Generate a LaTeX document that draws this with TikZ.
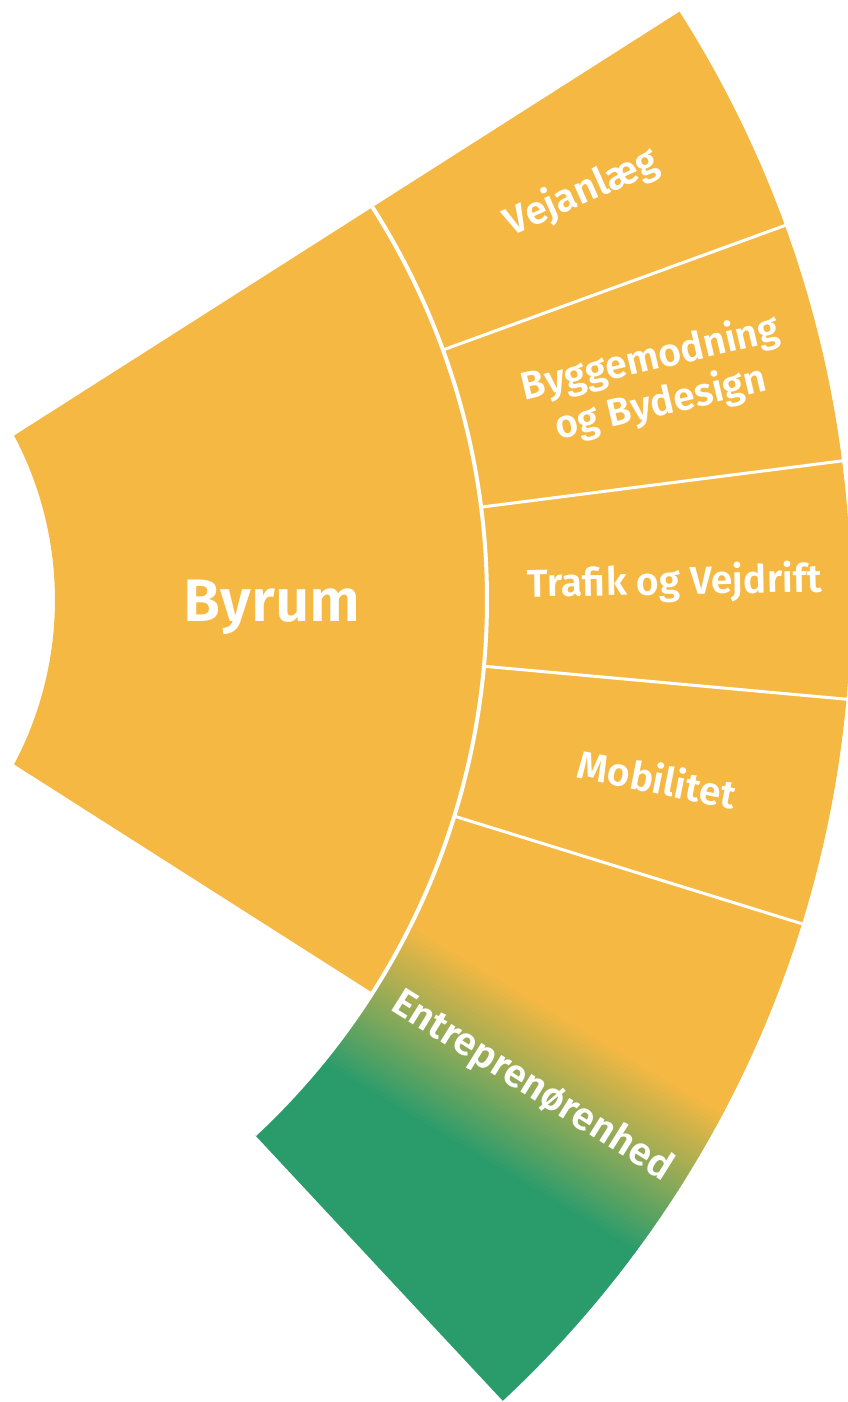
\documentclass[tikz,border=0pt]{standalone}
\usepackage{fontspec}
\setmainfont{Fira Sans}[BoldFont={Fira Sans SemiBold}]
\definecolor{byorange}{RGB}{245,184,67}
\definecolor{entgreen}{RGB}{42,156,108}
\tikzset{
  gap/.style={draw=white, line width=2pt},
  divider/.style={draw=white, line width=1.5pt},
  seglabel/.style={text=white, font=\bfseries\fontsize{19.5}{23}\selectfont, align=center},
  mainlabel/.style={text=white, font=\bfseries\fontsize{30}{36}\selectfont},
}

\begin{document}
\begin{tikzpicture}[x=0.5pt,y=0.5pt]
\useasboundingbox (244,-802) rectangle (1091,600);

%Shape: Byrum sector
\fill[byorange] (-32.5:306) -- (-32.5:731) arc[start angle=-32.5, end angle=32.5, radius=731] -- (32.5:306) arc[start angle=27.94, end angle=-27.94, radius=350.85] -- cycle;

%Shape: outer ring (Vejanlaeg to Mobilitet)
\fill[byorange] (-17.2:731) -- (-17.2:1095) arc[start angle=-17.2, end angle=32.5, radius=1095] -- (32.5:731) arc[start angle=32.5, end angle=-17.2, radius=731] -- cycle;

%Shape: Entreprenoerenhed with colour fade (thin strips)
\begin{scope}
\clip (-47:731) -- (-47:1095) arc[start angle=-47, end angle=-17.2, radius=1095] -- (-17.2:731) arc[start angle=-17.2, end angle=-47, radius=731] -- cycle;
\begin{scope}[shift={(617,-398)}, rotate=-31]
\fill[entgreen] (-900,-900) rectangle (900,-83);
\fill[byorange] (-900,83) rectangle (900,900);
\foreach \i in {0,...,41} {
  \pgfmathsetmacro\p{100*\i/41}
  \fill[byorange!\p!entgreen] (-900,{-84+\i*4}) rectangle (900,{-79.5+\i*4});
}
\end{scope}
\end{scope}

%Straight Lines: white gap and dividers
\draw[gap] (32.5:731) arc[start angle=32.5, end angle=-47, radius=731];
\foreach \a in {20,7.3,-5.2,-17.2}
  \draw[divider] (\a:731) -- (\a:1100);

% Text Node
\node[mainlabel, anchor=base] (byrum) at (516,-21.7) {Byrum};
% Text Node
\foreach \a/\r/\rot/\name/\txt in {26.25/921/24/vejanlaeg/Vejanlæg, 13.65/926/13.2/byggemodning/{Byggemodning\\og Bydesign}, 1.05/919/1.05/trafik/Trafik og Vejdrift, -11.2/919/-11.2/mobilitet/Mobilitet, -32.1/916/-32.1/entreprenoer/Entreprenørenhed}
  \node[seglabel, rotate=\rot] (\name) at (\a:\r) {\txt};

\end{tikzpicture}
\end{document}
